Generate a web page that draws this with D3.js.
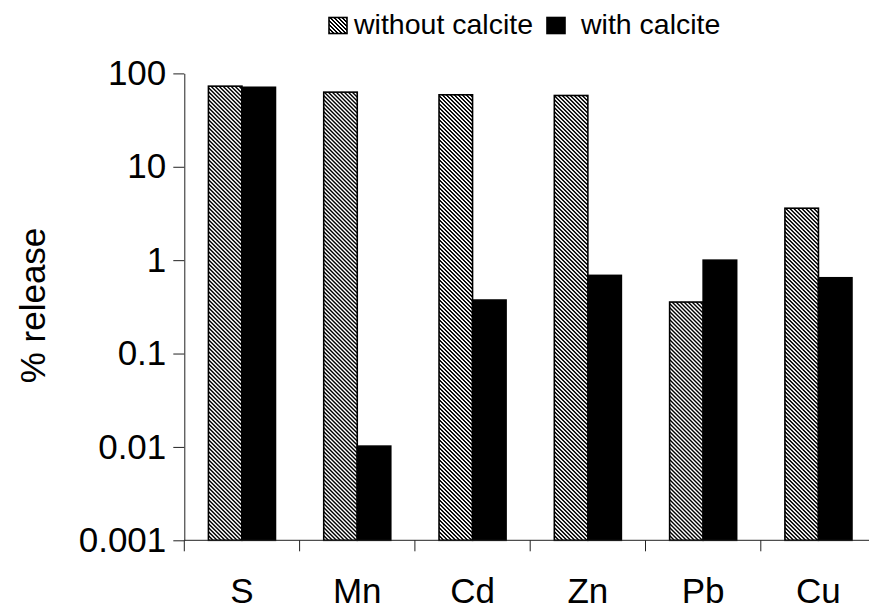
<!DOCTYPE html>
<html>
<head>
<meta charset="utf-8">
<script src="https://cdn.jsdelivr.net/npm/d3@7"></script>
<style>
  html, body { margin: 0; padding: 0; background: #fff; }
  svg { display: block; font-family: "Liberation Sans", Arial, sans-serif; }
</style>
</head>
<body>
<svg id="chart" width="869" height="609"></svg>
<script>
// Element release (%) from the leaching test, log scale
const elements = ["S", "Mn", "Cd", "Zn", "Pb", "Cu"];
const seriesNames = ["without calcite", "with calcite"];
const withoutCalcite = [73, 63, 59, 58, 0.356, 3.6];
const withCalcite = [71, 0.0102, 0.374, 0.687, 1.0, 0.648];
const yTicks = [0.001, 0.01, 0.1, 1, 10, 100];

const svg = d3.select("#chart");
const W = 869, H = 609;

const plotLeft = 184.3, plotTop = 73.4, plotBottom = 540.3, step = 115.3;

const y = d3.scaleLog().domain([0.001, 100]).range([plotBottom, plotTop]);
const x = d3.scaleBand().domain(elements).range([plotLeft, plotLeft + step * elements.length]).padding(0);
const xSub = d3.scaleBand().domain(seriesNames).range([0, x.bandwidth()])
  .paddingInner(0).paddingOuter(0.72);

// crisp downward-diagonal hatch: 4x4 tile, two black pixels per row
const defs = svg.append("defs");
const pat = defs.append("pattern")
  .attr("id", "hatch")
  .attr("patternUnits", "userSpaceOnUse")
  .attr("width", 4).attr("height", 4);
pat.append("rect").attr("width", 4).attr("height", 4).attr("fill", "#fff");
const hatchPixels = [];
for (let r = 0; r < 4; r++) {
  for (let k = 0; k < 2; k++) hatchPixels.push({ r, c: (r + k) % 4 });
}
pat.selectAll("rect.px").data(hatchPixels).join("rect")
  .attr("class", "px")
  .attr("x", d => d.c).attr("y", d => d.r)
  .attr("width", 1).attr("height", 1)
  .attr("fill", "#000")
  .attr("shape-rendering", "crispEdges");

const fills = { "without calcite": "url(#hatch)", "with calcite": "#000" };

const rows = elements.map((e, i) => ({
  element: e,
  values: [
    { key: seriesNames[0], value: withoutCalcite[i] },
    { key: seriesNames[1], value: withCalcite[i] }
  ]
}));

// bars
const groups = svg.append("g").selectAll("g")
  .data(rows).join("g")
  .attr("transform", d => `translate(${x(d.element)},0)`);

groups.selectAll("rect")
  .data(d => d.values).join("rect")
  .attr("x", d => xSub(d.key))
  .attr("width", xSub.bandwidth())
  .attr("y", d => y(d.value))
  .attr("height", d => y(0.001) - y(d.value))
  .attr("fill", d => fills[d.key])
  .attr("stroke", "#000")
  .attr("stroke-width", 1.6);

// y axis
const yAxis = svg.append("g")
  .attr("transform", `translate(${plotLeft},0)`)
  .call(d3.axisLeft(y).tickValues(yTicks).tickFormat(d3.format("~g"))
    .tickSize(11).tickSizeOuter(0).tickPadding(7));
yAxis.select(".domain").attr("stroke", "#222");
yAxis.selectAll(".tick line").attr("stroke", "#222");
yAxis.selectAll(".tick text")
  .attr("font-size", 35).attr("fill", "#000")
  .attr("font-family", "Liberation Sans, Arial, sans-serif");

// x axis: ticks at category boundaries, labels centred in each band
const xAxis = svg.append("g").attr("transform", `translate(0,${plotBottom})`);
xAxis.append("line")
  .attr("x1", plotLeft).attr("x2", W)
  .attr("stroke", "#222").attr("stroke-width", 1);
xAxis.selectAll("line.tick")
  .data(elements.concat(["end"])).join("line")
  .attr("class", "tick")
  .attr("x1", d => d === "end" ? x.range()[1] : x(d))
  .attr("x2", d => d === "end" ? x.range()[1] : x(d))
  .attr("y1", 0).attr("y2", 11)
  .attr("stroke", "#222");
xAxis.selectAll("text")
  .data(elements).join("text")
  .attr("x", d => x(d) + x.bandwidth() / 2)
  .attr("y", 63)
  .attr("text-anchor", "middle")
  .attr("font-size", 35)
  .attr("fill", "#000")
  .text(d => d);

// y axis title
svg.append("text")
  .attr("transform", "translate(45,305.5) rotate(-90)")
  .attr("text-anchor", "middle")
  .attr("font-size", 35)
  .attr("fill", "#000")
  .text("% release");

// legend
const legend = svg.append("g");
const legendItems = [
  { key: seriesNames[0], sx: 329, tx: 354 },
  { key: seriesNames[1], sx: 547, tx: 581 }
];
legend.selectAll("rect")
  .data(legendItems).join("rect")
  .attr("x", d => d.sx).attr("y", 17.5)
  .attr("width", 18).attr("height", 16)
  .attr("fill", d => fills[d.key])
  .attr("stroke", "#000").attr("stroke-width", 1.6);
legend.selectAll("text")
  .data(legendItems).join("text")
  .attr("x", d => d.tx).attr("y", 34.3)
  .attr("font-size", 28.5)
  .attr("fill", "#000")
  .text(d => d.key);
</script>
</body>
</html>
